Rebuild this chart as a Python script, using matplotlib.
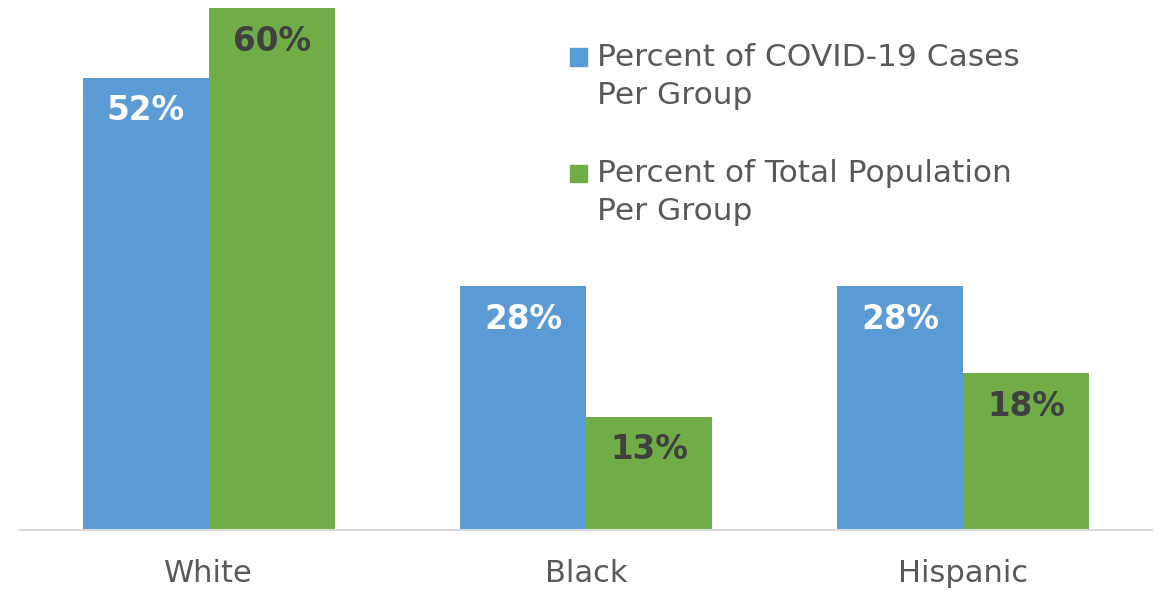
import matplotlib
matplotlib.use("Agg")
import matplotlib.pyplot as plt
from matplotlib.patches import Rectangle
import numpy as np

categories = ["White", "Black", "Hispanic"]
cases_pct = [52, 28, 28]
population_pct = [60, 13, 18]
series_labels = [["Percent of COVID-19 Cases", "Per Group"],
                 ["Percent of Total Population", "Per Group"]]

blue = "#5B9BD5"
green = "#70AD47"
text_gray = "#595959"
dark_label = "#404040"

W, H = 1158, 593
fig = plt.figure(figsize=(W / 100, H / 100), dpi=100)
ax = fig.add_axes([20 / W, 1 - 530 / H, (1152 - 20) / W, (530 - 8) / H])

x = np.arange(len(categories))
bw = 126 / 377.5
ax.bar(x - bw / 2, cases_pct, width=bw, color=blue)
ax.bar(x + bw / 2, population_pct, width=bw, color=green)

ax.set_xlim(-0.5, 2.5)
ax.set_ylim(0, 60)

for xi, v in zip(x, cases_pct):
    ax.text(xi - bw / 2, v - 3.8, f"{v}%", ha="center", va="center",
            color="white", fontsize=23.5, fontweight="bold")
for xi, v in zip(x, population_pct):
    ax.text(xi + bw / 2, v - 3.8, f"{v}%", ha="center", va="center",
            color=dark_label, fontsize=23.5, fontweight="bold")

for s in ["top", "right", "left"]:
    ax.spines[s].set_visible(False)
ax.spines["bottom"].set_color("#D9D9D9")
ax.spines["bottom"].set_linewidth(1.5)
ax.set_yticks([])
ax.set_xticks(x)
ax.set_xticklabels(categories, fontsize=22, color=text_gray)
ax.tick_params(axis="x", length=0, pad=21)

# legend
colors = [blue, green]
for i, (lines, c) in enumerate(zip(series_labels, colors)):
    y0 = 57 + i * 116
    fig.patches.append(Rectangle((570 / W, 1 - (y0 + 8.5) / H), 17 / W, 17 / H,
                                 transform=fig.transFigure, color=c))
    for j, line in enumerate(lines):
        fig.text(597 / W, 1 - (y0 + j * 39) / H, line, ha="left", va="center",
                 fontsize=22.5, color=text_gray)

fig.savefig("out.png", dpi=100)
